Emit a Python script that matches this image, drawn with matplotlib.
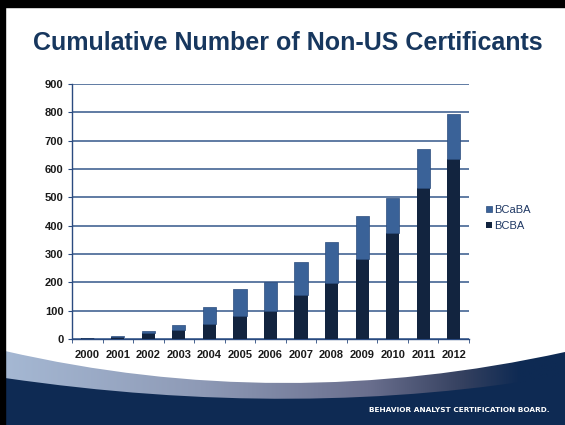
import matplotlib
matplotlib.use('Agg')
import matplotlib.pyplot as plt
import numpy as np
from matplotlib.path import Path
from matplotlib.patches import PathPatch, Rectangle
from matplotlib.colors import LinearSegmentedColormap

plt.rcParams['font.family'] = ['Liberation Sans', 'DejaVu Sans']

# data
years = ['2000', '2001', '2002', '2003', '2004', '2005', '2006',
         '2007', '2008', '2009', '2010', '2011', '2012']
bcba = [3, 7, 21, 31, 54, 81, 99, 154, 198, 284, 375, 533, 634]
bcaba = [2, 3, 6, 20, 58, 95, 101, 119, 144, 151, 124, 136, 159]

navy = '#0e2a53'
dark_bar = '#12243f'
light_bar = '#3a6298'

fig = plt.figure(figsize=(5.65, 4.25), dpi=100)

# slide background, drawn in pixel coordinates
bg = fig.add_axes([0, 0, 1, 1])
bg.set_xlim(0, 565)
bg.set_ylim(425, 0)
bg.axis('off')
bg.add_patch(Rectangle((0, 0), 565, 425, color='white', zorder=0))

# swoosh band with gradient
band = Path([(5, 351), (281, 414.5), (565, 352), (565, 425), (5, 425), (5, 351)],
            [Path.MOVETO, Path.CURVE3, Path.CURVE3, Path.LINETO, Path.LINETO, Path.CLOSEPOLY])
band_patch = PathPatch(band, facecolor='none', edgecolor='none')
bg.add_patch(band_patch)
cmap = LinearSegmentedColormap.from_list('band', [(0, '#a5b8d3'), (0.35, '#8e9ab6'),
                                                  (0.65, '#6a6f8e'), (0.82, '#34405f'),
                                                  (0.92, navy), (1, navy)])
grad = np.linspace(0, 1, 256).reshape(1, -1)
im = bg.imshow(grad, cmap=cmap, extent=[5, 565, 425, 340], aspect='auto', zorder=1)
im.set_clip_path(band_patch)

# navy base
base = Path([(5, 378), (300, 421), (565, 375), (565, 425), (5, 425), (5, 378)],
            [Path.MOVETO, Path.CURVE3, Path.CURVE3, Path.LINETO, Path.LINETO, Path.CLOSEPOLY])
bg.add_patch(PathPatch(base, facecolor=navy, edgecolor='none', zorder=2))

# black slide border (left and top)
bg.add_patch(Rectangle((0, 0), 5, 425, color='black', zorder=3))
bg.add_patch(Rectangle((0, 0), 565, 7, color='black', zorder=3))

fig.text(0.51, 0.899, 'Cumulative Number of Non-US Certificants', ha='center', va='center',
         fontsize=18, fontweight='bold', color='#17375e')
fig.text(550 / 565, 1 - 410 / 425, 'BEHAVIOR ANALYST CERTIFICATION BOARD.', ha='right',
         va='center', color='white', fontsize=5.35, fontweight='bold', family='DejaVu Sans')

# chart
ax = fig.add_axes([72 / 565, 86 / 425, 397 / 565, 255 / 425])
ax.set_facecolor('none')
x = np.arange(len(years))
b1 = ax.bar(x, bcba, width=0.43, color=dark_bar, zorder=3, label='BCBA')
b2 = ax.bar(x, bcaba, width=0.43, bottom=bcba, color=light_bar, edgecolor='#2b4c7c',
            linewidth=0.5, zorder=3, label='BCaBA')
ax.set_xlim(-0.5, 12.5)
ax.set_ylim(0, 900)
ax.set_yticks(range(0, 901, 100))
ax.yaxis.grid(True, color='#34578a', linewidth=1.1)
ax.set_axisbelow(True)
for s in ['top', 'right']:
    ax.spines[s].set_visible(False)
for s in ['left', 'bottom']:
    ax.spines[s].set_color('#2a4a7f')
    ax.spines[s].set_linewidth(1)
ax.set_xticks(x)
ax.set_xticklabels(years)
ax.set_xticks(np.arange(-0.5, 13, 1), minor=True)
ax.tick_params(axis='x', which='major', length=0, pad=8)
ax.tick_params(axis='x', which='minor', length=3, color='#2a4a7f')
ax.tick_params(axis='y', length=3, color='#2a4a7f', pad=3)
for lab in ax.get_xticklabels() + ax.get_yticklabels():
    lab.set_fontsize(8)
    lab.set_fontweight('bold')
    lab.set_color('#1a1a1a')

fig.legend([b2, b1], ['BCaBA', 'BCBA'], loc='center left', bbox_to_anchor=(476 / 565, 0.487),
           frameon=False, fontsize=8, labelcolor='#1f3864', handlelength=0.5,
           handleheight=0.5, handletextpad=0.25, labelspacing=0.5)

fig.savefig('out.png', dpi=100)
